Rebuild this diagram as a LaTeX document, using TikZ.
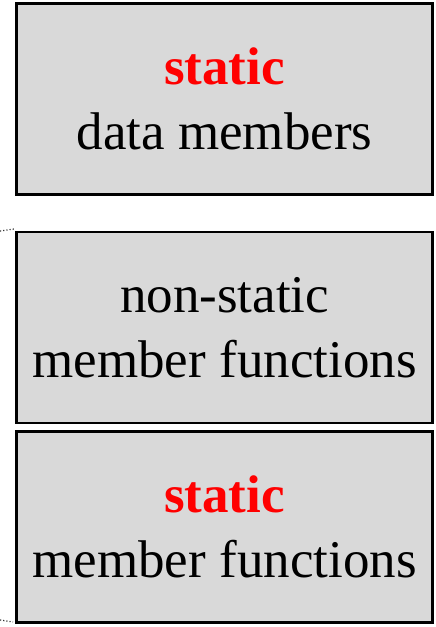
\documentclass[tikz,border=0pt]{standalone}
\usepackage{fontspec}
\setmainfont{Liberation Serif}
\definecolor{boxgray}{HTML}{D9D9D9}
\definecolor{kwred}{HTML}{FF0000}
\tikzset{
  membox/.style={draw=black, line width=2.6pt, fill=boxgray, minimum width=416pt, minimum height=191pt, inner sep=0pt, align=center, font=\fontsize{53}{65}\selectfont},
  hint/.style={dotted, line width=1.2pt, black!80}
}
\newcommand{\kw}[1]{\textcolor{kwred}{\textbf{#1}}}
\begin{document}
\begin{tikzpicture}[x=1pt,y=-1pt]
\useasboundingbox (0,0) rectangle (436,627);
\node[membox] (sdata) at (224.5,99) {\kw{static}\\data members};
\node[membox] (nsfun) at (224.5,327.5) {non-static\\member functions};
\node[membox] (sfun) at (224.5,527) {\kw{static}\\member functions};
\coordinate (a1) at (0,231);
\coordinate (a2) at (14,229);
\coordinate (b1) at (0,620);
\coordinate (b2) at (13,622);
\draw[hint] (a1) -- (a2);
\draw[hint] (b1) -- (b2);
\end{tikzpicture}
\end{document}
